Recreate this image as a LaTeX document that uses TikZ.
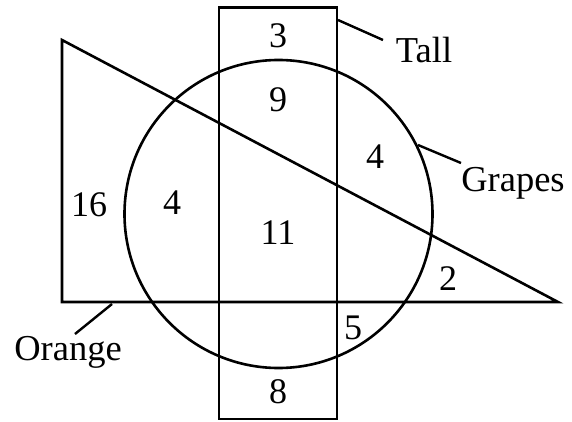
\documentclass[tikz,border=0pt]{standalone}
\usepackage{fontspec}
\setmainfont{Liberation Serif}
\begin{document}
\begin{tikzpicture}[x=1pt,y=-1pt,
  shape line/.style={line width=2.6pt,line join=miter},
  lead/.style={line width=2.4pt},
  num/.style={font=\fontsize{36}{38}\selectfont,inner sep=0pt},
  lbl/.style={font=\fontsize{36.5}{38}\selectfont,inner sep=0pt}]
\useasboundingbox (0,0) rectangle (572,422);
% shapes
\draw[shape line] (219,7.5) rectangle (337,419);
\draw[shape line] (62,40) -- (62,302) -- (558,302) -- cycle;
\draw[shape line] (278.5,214) circle (154);
% numbers
\node[num] (n3) at (278,36) {3};
\node[num] (n9) at (278,100) {9};
\node[num] (n4r) at (375,157) {4};
\node[num] (n16) at (89,205) {16};
\node[num] (n4l) at (172,203) {4};
\node[num] (n11) at (278,233) {11};
\node[num] (n2) at (448,279) {2};
\node[num] (n5) at (353,328) {5};
\node[num] (n8) at (278,392) {8};
% labels
\node[lbl] (tall) at (424,50) {Tall};
\node[lbl] (grapes) at (513,183) {Grapes};
\node[lbl] (orange) at (68,352) {Orange};
\coordinate (tallA) at (338,20);
\coordinate (tallB) at (383,40);
\coordinate (grA) at (418,145);
\coordinate (grB) at (461,163);
\coordinate (orA) at (112,304);
\coordinate (orB) at (75,334);
\draw[lead] (tallA) -- (tallB);
\draw[lead] (grA) -- (grB);
\draw[lead] (orA) -- (orB);
\end{tikzpicture}
\end{document}
